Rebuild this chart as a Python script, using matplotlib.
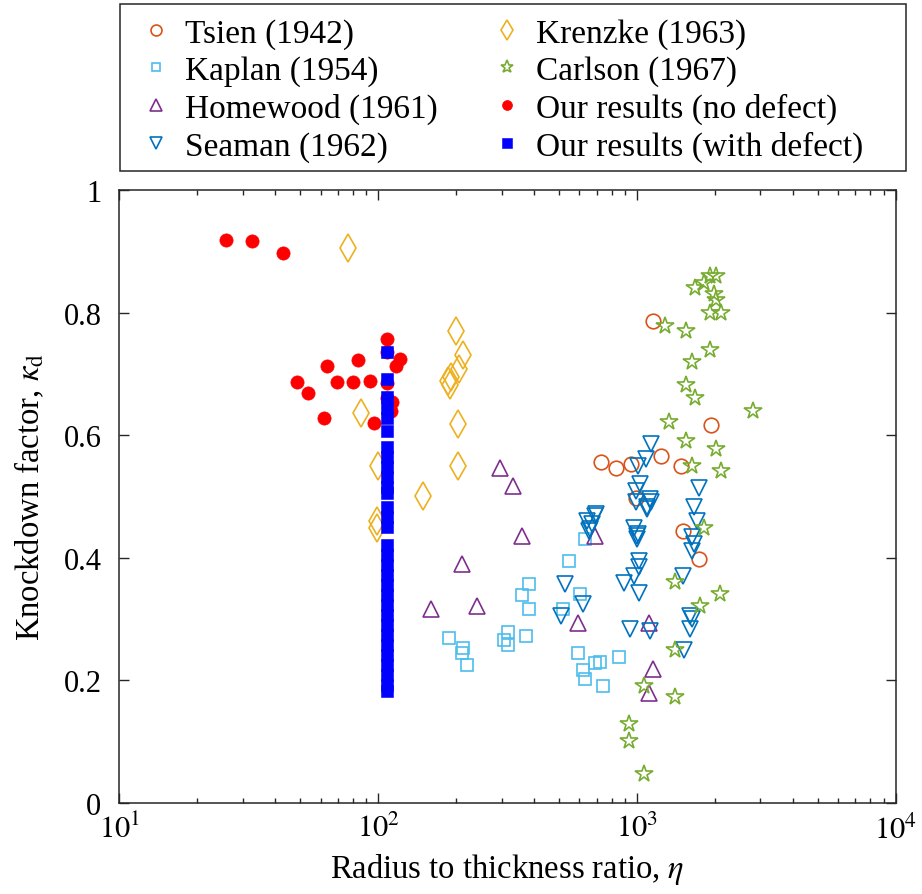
import numpy as np
import matplotlib
matplotlib.use('Agg')
import matplotlib.pyplot as plt
from matplotlib.ticker import LogLocator, FixedLocator
from matplotlib.patches import Rectangle

plt.rcParams['font.family'] = ['Liberation Serif', 'DejaVu Serif']
plt.rcParams['mathtext.fontset'] = 'stix'

# ---- data ----
tsien_x = [1151, 1941, 727, 833, 953, 1245, 1487, 995, 1510, 1745]
tsien_y = [0.786, 0.616, 0.556, 0.546, 0.552, 0.566, 0.549, 0.497, 0.444, 0.398]

kaplan_x = [384, 360, 384, 318, 307, 318, 372, 188, 213, 210, 220,
            628, 545, 604, 519, 590, 619, 628, 690, 722, 850, 738]
kaplan_y = [0.357, 0.339, 0.316, 0.278, 0.266, 0.257, 0.272, 0.269, 0.252, 0.245, 0.225,
            0.430, 0.395, 0.340, 0.316, 0.245, 0.217, 0.202, 0.228, 0.229, 0.237, 0.190]

homewood_x = [297, 332, 360, 210, 160, 242, 690, 590, 1117, 1151, 1117]
homewood_y = [0.546, 0.517, 0.436, 0.389, 0.316, 0.321, 0.436, 0.294, 0.293, 0.219, 0.179]

seaman_x = [1135, 1089, 1011, 1031, 995, 995, 1127, 1094, 1745, 1660, 1710,
            697, 642, 661, 972, 1002, 1637, 1135, 1094, 1660, 1633, 690, 671,
            653, 1011, 1002, 1017, 1017, 972, 889, 1017, 1507, 529, 617, 510,
            944, 1127, 1610, 1633, 1610, 1517]
seaman_y = [0.585, 0.561, 0.550, 0.520, 0.508, 0.490, 0.496, 0.482, 0.514, 0.482, 0.460,
            0.471, 0.460, 0.447, 0.449, 0.436, 0.433, 0.490, 0.479, 0.422, 0.411, 0.468, 0.455,
            0.444, 0.439, 0.430, 0.395, 0.384, 0.370, 0.359, 0.343, 0.370, 0.357, 0.324, 0.305,
            0.283, 0.281, 0.305, 0.300, 0.283, 0.250]

krenzke_x = [76.6, 199.5, 213.6, 206, 187, 191.6, 189.6, 85.9, 203, 203, 100, 149.6, 98.8, 98.8]
krenzke_y = [0.905, 0.770, 0.730, 0.708, 0.689, 0.694, 0.681, 0.636, 0.618, 0.549, 0.549,
             0.500, 0.460, 0.449]

carlson_x = [1288, 1555, 1683, 1812, 1923, 2014, 1995, 2014, 1923, 2121, 1915, 1637,
             1555, 1683, 1327, 2812, 2014, 2119, 1555, 1637, 1824, 1409, 2103, 1762,
             1409, 1062, 1409, 929, 929, 1062]
carlson_y = [0.778, 0.770, 0.840, 0.849, 0.860, 0.859, 0.830, 0.821, 0.800, 0.800, 0.739, 0.719,
             0.682, 0.660, 0.621, 0.640, 0.578, 0.542, 0.591, 0.550, 0.449, 0.360, 0.341, 0.321,
             0.250, 0.191, 0.172, 0.128, 0.101, 0.047]

nodef_x = [25.8, 32.6, 42.8, 48.6, 53.6, 63.5, 61.8, 69.4, 80, 83.6, 93, 96.5,
           108, 108, 121, 117, 108, 108, 113, 112]
nodef_y = [0.918, 0.916, 0.897, 0.686, 0.668, 0.712, 0.628, 0.686, 0.686, 0.722, 0.689, 0.619,
           0.757, 0.735, 0.724, 0.712, 0.685, 0.660, 0.654, 0.640]

defect_y = [0.735, 0.692, 0.662, 0.644, 0.628, 0.606, 0.581, 0.564, 0.548, 0.532, 0.515,
            0.506, 0.483, 0.467, 0.450, 0.421, 0.404, 0.388, 0.372, 0.355, 0.339, 0.323,
            0.306, 0.290, 0.274, 0.257, 0.241, 0.225, 0.208, 0.192, 0.182]
defect_x = [108] * len(defect_y)

fig = plt.figure(figsize=(9.22, 8.95), dpi=100)
ax = fig.add_axes([0.1296, 0.1020, 0.8417, 0.6846])

mew = 1.2
ax.plot(tsien_x, tsien_y, 'o', ls='none', mfc='none', mec='#D95319', ms=10.5, mew=mew,
        label='Tsien (1942)')
ax.plot(kaplan_x, kaplan_y, 's', ls='none', mfc='none', mec='#4DBEEE', ms=8.5, mew=mew,
        label='Kaplan (1954)')
ax.plot(homewood_x, homewood_y, '^', ls='none', mfc='none', mec='#7E2F8E', ms=12, mew=mew,
        label='Homewood (1961)')
ax.plot(seaman_x, seaman_y, 'v', ls='none', mfc='none', mec='#0072BD', ms=12, mew=mew,
        label='Seaman (1962)')
ax.plot(krenzke_x, krenzke_y, 'd', ls='none', mfc='none', mec='#EDB120', ms=14, mew=mew,
        label='Krenzke (1963)')
ax.plot(carlson_x, carlson_y, '*', ls='none', mfc='none', mec='#77AC30', ms=13, mew=mew,
        label='Carlson (1967)')
ax.plot(nodef_x, nodef_y, 'o', ls='none', mfc='red', mec='red', ms=9.5, mew=0.5,
        label='Our results (no defect)')
ax.plot(defect_x, defect_y, 's', ls='none', mfc='blue', mec='blue', ms=8.8, mew=0.4,
        label='Our results (with defect)')

ax.set_xscale('log')
ax.set_xlim(10, 1e4)
ax.set_ylim(0, 1)
ax.set_yticks([0, 0.2, 0.4, 0.6, 0.8, 1])
ax.set_yticklabels(['0', '0.2', '0.4', '0.6', '0.8', '1'])
ax.xaxis.set_major_locator(FixedLocator([10, 100, 1000, 10000]))
ax.set_xticklabels([r'$10^1$', r'$10^2$', r'$10^3$', r'$10^4$'])
ax.xaxis.set_minor_locator(LogLocator(base=10, subs=np.arange(2, 10)))

ax.tick_params(which='both', direction='in', top=True, right=True, width=1.0, colors='#262626',
               labelcolor='black')
ax.tick_params(which='major', length=7, labelsize=22)
ax.tick_params(which='minor', length=3.5)
ax.tick_params(axis='y', pad=13)
ax.tick_params(axis='x', pad=8)
for s in ax.spines.values():
    s.set_linewidth(1.1)
    s.set_color('#262626')

ax.set_xlabel(r'Radius to thickness ratio, $\eta$', fontsize=23.5, labelpad=5)
ax.set_ylabel(r'Knockdown factor, $\kappa_{\mathrm{d}}$', fontsize=23.5, labelpad=12)

leg = fig.legend(loc='upper left', bbox_to_anchor=(118 / 922, 1 - 9 / 895), ncol=2,
                 fontsize=24, frameon=False, markerscale=0.75, handlelength=1.7,
                 handletextpad=0.0, labelspacing=0.2, columnspacing=1.25,
                 borderpad=0.3, borderaxespad=0)
# MATLAB-style legend box, wider than its contents
fig.patches.append(Rectangle((120 / 922, 1 - 172 / 895), 786 / 922, 167 / 895,
                             transform=fig.transFigure, fill=False,
                             edgecolor='#262626', linewidth=1.1))

fig.savefig('out.png', dpi=100)
